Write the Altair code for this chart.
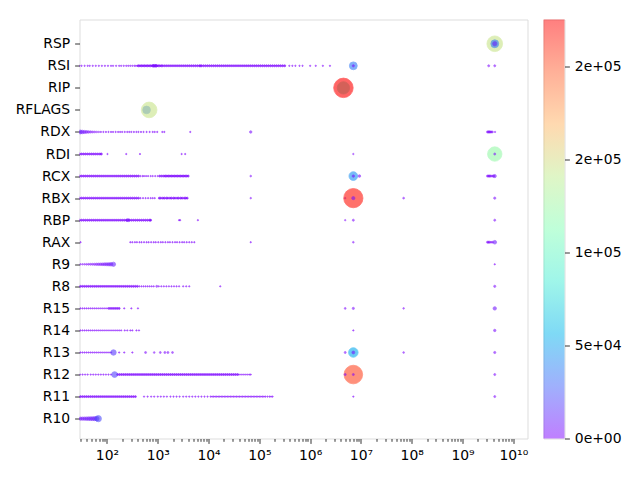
import altair as alt
import pandas as pd

# y categories (bottom to top)
REGISTERS = ["R10", "R11", "R12", "R13", "R14", "R15", "R8", "R9", "RAX",
             "RBP", "RBX", "RCX", "RDI", "RDX", "RFLAGS", "RIP", "RSI", "RSP"]

# counts used for isolated tiny values and for dense strips of values
DOT_COUNT = 100
LINE_COUNT = 1300

# values are given as log10(register value); PTS are (log10 value, count)
R10_SOLID = []
R10_DOTS = []
R10_PTS = [(1.44, 5000), (1.48, 5300), (1.52, 5600), (1.56, 6000), (1.60, 6500), (1.64, 7000),
           (1.68, 7600), (1.72, 8300), (1.76, 9200), (1.80, 11000), (1.83, 22000)]

R11_SOLID = [1.44, 1.48, 1.52, 1.56, 1.60, 1.64, 1.68, 1.72, 1.76, 1.80, 1.84, 1.88, 1.92, 1.96,
             2.00, 2.04, 2.08, 2.12, 2.16, 2.20, 2.24, 2.28, 2.32, 2.36, 2.40, 2.44, 2.48, 2.52, 2.56]
R11_DOTS = [2.73, 2.80, 2.87, 2.93, 3.00, 3.06, 3.12, 3.18, 3.25, 3.31, 3.37, 3.43, 3.50, 3.56,
            3.62, 3.68, 3.74, 3.80, 3.86, 3.92, 3.98, 4.04, 4.07, 4.10, 4.13, 4.16, 4.19, 4.22,
            4.25, 4.28, 4.31, 4.34, 4.37, 4.40, 4.43, 4.46, 4.49, 4.52, 4.55, 4.58, 4.61, 4.64,
            4.67, 4.70, 4.73, 4.76, 4.79, 4.82, 4.85, 4.88, 4.91, 4.94, 4.97, 5.00, 5.03, 5.06,
            5.09, 5.12, 5.16, 5.20, 5.23, 5.26, 6.85]
R11_PTS = [(9.634, 1500)]

R12_SOLID = [2.21, 2.25, 2.29, 2.33, 2.37, 2.41, 2.45, 2.49, 2.53, 2.57, 2.61, 2.65, 2.69, 2.73,
             2.77, 2.81, 2.85, 2.89, 2.93, 2.97, 3.01, 3.05, 3.09, 3.13, 3.17, 3.21, 3.25, 3.29,
             3.33, 3.37, 3.41, 3.45, 3.49, 3.53, 3.57, 3.61, 3.65, 3.69, 3.73, 3.77, 3.81, 3.85,
             3.89, 3.93, 3.97, 4.01, 4.05, 4.09, 4.13, 4.17, 4.21, 4.25, 4.29, 4.33, 4.37, 4.41,
             4.45, 4.49, 4.53, 4.57]
R12_DOTS = [1.47, 1.52, 1.57, 1.62, 1.68, 1.73, 1.78, 1.83, 1.88, 1.93, 1.98, 2.03, 2.08,
            4.60, 4.64, 4.68, 4.72, 4.76, 4.80, 4.83]
R12_PTS = [(2.15, 19000), (6.85, 205000), (6.69, 1500), (6.85, 1500), (9.634, 1500)]

R13_SOLID = []
R13_DOTS = [1.44, 1.48, 1.52, 1.56, 1.60, 1.64, 1.68, 1.72, 1.76, 1.80, 1.84, 1.88, 1.92, 1.96,
            2.00, 2.04, 2.08, 2.24, 2.34, 2.50]
R13_PTS = [(2.128, 17000), (2.76, 1500), (2.93, 800), (3.05, 1200), (3.14, 1500), (3.20, 1500),
           (3.29, 1200), (6.69, 1500), (6.85, 53000), (6.85, 4000), (7.84, 800), (9.634, 2000)]

R14_SOLID = []
R14_DOTS = [1.44, 1.48, 1.52, 1.56, 1.60, 1.64, 1.68, 1.72, 1.76, 1.80, 1.84, 1.88, 1.92, 1.96,
            2.00, 2.04, 2.08, 2.12, 2.16, 2.20, 2.24, 2.28, 2.35, 2.40, 2.46, 2.50, 2.58, 2.63, 6.85]
R14_PTS = [(9.634, 2500)]

R15_SOLID = [2.04, 2.08, 2.12, 2.16, 2.20, 2.24]
R15_DOTS = [1.44, 1.48, 1.52, 1.56, 1.60, 1.64, 1.68, 1.72, 1.76, 1.80, 1.84, 1.88, 1.92, 1.96,
            2.00, 2.34, 2.48, 2.61]
R15_PTS = [(6.69, 1000), (6.85, 2000), (7.84, 600), (9.634, 6000)]

R8_SOLID = [1.44, 1.48, 1.52, 1.56, 1.60, 1.64, 1.68, 1.72, 1.76, 1.80, 1.84, 1.88, 1.92, 1.96,
            2.00, 2.04, 2.08, 2.12, 2.16, 2.20, 2.24, 2.28, 2.32, 2.36, 2.40, 2.44, 2.48, 2.52,
            2.56, 2.60]
R8_DOTS = [2.64, 2.68, 2.72, 2.76, 2.80, 2.84, 2.88, 2.92, 3.02, 3.07, 3.12, 3.17, 3.22, 3.27,
           3.32, 3.37, 3.42, 3.50, 3.56, 3.62, 4.23]
R8_PTS = [(2.98, 1500), (9.634, 2000)]

R9_SOLID = []
R9_DOTS = [9.634]
R9_PTS = [(1.44, 300), (1.48, 400), (1.52, 500), (1.56, 700), (1.60, 900), (1.64, 1100),
          (1.68, 1400), (1.72, 1700), (1.76, 2000), (1.80, 2400), (1.84, 2800), (1.88, 3200),
          (1.92, 3700), (1.96, 4200), (2.00, 4800), (2.04, 5500), (2.08, 6500), (2.128, 10000)]

RAX_SOLID = []
RAX_DOTS = [1.48, 2.46, 2.50, 2.55, 2.59, 2.64, 2.68, 2.73, 2.78, 2.82, 2.87, 2.92, 2.96, 3.01,
            3.06, 3.10, 3.15, 3.20, 3.24, 3.29, 3.34, 3.38, 3.43, 3.48, 3.52, 3.57, 3.62, 3.67,
            3.72, 4.83]
RAX_PTS = [(6.85, 800), (9.49, 1500), (9.51, 1500), (9.53, 1500), (9.56, 1200), (9.59, 1000),
           (9.634, 7000)]

RBP_SOLID = [1.46, 1.50, 1.54, 1.58, 1.62, 1.66, 1.70, 1.74, 1.78, 1.82, 1.86, 1.90, 1.94, 1.98,
             2.02, 2.06, 2.10, 2.14, 2.18, 2.22, 2.26, 2.30, 2.34, 2.38, 2.44, 2.48, 2.52, 2.56,
             2.60, 2.64, 2.68, 2.72, 2.76, 2.80, 2.84, 2.86]
RBP_DOTS = [3.42, 3.44, 3.79]
RBP_PTS = [(2.40, 3000), (2.42, 4000), (6.69, 300), (6.85, 1500), (9.634, 1500)]

RBX_SOLID = [1.46, 1.50, 1.54, 1.58, 1.62, 1.66, 1.70, 1.74, 1.78, 1.82, 1.86, 1.90, 1.94, 1.98,
             2.02, 2.06, 2.10, 2.14, 2.18, 2.22, 2.26, 2.30, 2.34, 2.38, 2.42, 2.46, 2.50, 2.54,
             2.58, 2.62, 3.03, 3.06, 3.10, 3.13, 3.17, 3.20, 3.24, 3.27, 3.31, 3.34, 3.38, 3.41,
             3.45, 3.48, 3.52, 3.55, 3.58]
RBX_DOTS = [2.66, 2.71, 2.76, 2.81, 2.86, 2.90, 2.94]
RBX_PTS = [(4.83, 500), (6.69, 200), (6.85, 220000), (6.85, 5000), (7.84, 1000), (9.634, 2000)]

RCX_SOLID = [1.46, 1.50, 1.54, 1.58, 1.62, 1.66, 1.70, 1.74, 1.78, 1.82, 1.86, 1.90, 1.94, 1.98,
             2.02, 2.06, 2.10, 2.14, 2.18, 2.22, 2.26, 2.30, 2.34, 2.38, 2.42, 2.46, 2.50, 2.54,
             2.58, 2.62, 3.04, 3.08, 3.12, 3.15, 3.18, 3.21, 3.24, 3.27, 3.30, 3.33, 3.36, 3.39,
             3.42, 3.45, 3.48, 3.51, 3.54, 3.57, 3.60]
RCX_DOTS = [2.66, 2.70, 2.73, 2.77, 2.81, 2.86, 2.90, 2.95, 3.00]
RCX_PTS = [(4.83, 800), (6.85, 44000), (6.85, 2500), (6.97, 3000), (9.49, 1500), (9.51, 1500),
           (9.53, 2000), (9.55, 1500), (9.58, 1500), (9.61, 2500), (9.634, 5000)]

RDI_SOLID = [1.46, 1.50, 1.54, 1.58, 1.62, 1.66, 1.70, 1.74, 1.78, 1.82, 1.86, 1.89]
RDI_DOTS = [2.01, 2.38, 2.65, 3.47, 3.54]
RDI_PTS = [(6.85, 300), (9.634, 122000), (9.634, 1500)]

RDX_SOLID = []
RDX_DOTS = [1.88, 1.93, 1.98, 2.03, 2.08, 2.12, 2.17, 2.22, 2.26, 2.30, 2.35, 2.40, 2.44, 2.48,
            2.53, 2.58, 2.62, 2.67, 2.72, 2.78, 2.84, 2.90, 2.94, 2.99, 3.09, 3.13, 3.64]
RDX_PTS = [(1.44, 9600), (1.48, 8000), (1.52, 6500), (1.56, 5000), (1.60, 3800), (1.64, 2800),
           (1.68, 2000), (1.72, 1400), (1.76, 1000), (1.80, 700), (1.84, 400), (4.83, 2500),
           (9.49, 1500), (9.51, 2000), (9.53, 2000), (9.55, 1500), (9.57, 1000), (9.59, 800),
           (9.64, 300)]

RFLAGS_SOLID = []
RFLAGS_DOTS = []
RFLAGS_PTS = [(2.78, 34000), (2.83, 145000)]

RIP_SOLID = []
RIP_DOTS = []
RIP_PTS = [(6.655, 90000), (6.655, 225500)]

RSI_SOLID = [2.62, 2.65, 2.68, 2.71, 2.74, 2.77, 2.80, 2.83, 2.86, 2.89, 2.92, 2.95, 2.98, 3.01,
             3.04, 3.07, 3.10, 3.14, 3.18, 3.22, 3.26, 3.30, 3.34, 3.38, 3.42, 3.46, 3.50, 3.54,
             3.58, 3.62, 3.66, 3.70, 3.74, 3.78, 3.82, 3.86, 3.90, 3.94, 3.98, 4.02, 4.06, 4.10,
             4.14, 4.18, 4.22, 4.26, 4.30, 4.34, 4.38, 4.42, 4.46, 4.50, 4.54, 4.58, 4.62, 4.66,
             4.70, 4.74, 4.78, 4.82, 4.86, 4.90, 4.94, 4.98, 5.02, 5.06, 5.10, 5.14, 5.18, 5.22,
             5.26, 5.30, 5.34, 5.38, 5.42, 5.46, 5.50]
RSI_DOTS = [1.46, 1.50, 1.56, 1.62, 1.66, 1.72, 1.78, 1.84, 1.90, 1.96, 2.02, 2.08, 2.12, 2.18,
            2.24, 2.28, 2.33, 2.38, 2.42, 2.46, 2.50, 2.54, 2.57, 2.60, 5.59, 5.65, 5.71, 5.79,
            5.85, 6.00, 6.11, 6.25, 6.39]
RSI_PTS = [(2.91, 3000), (2.94, 3500), (2.97, 3000), (3.84, 1500), (6.85, 36000), (6.85, 2000),
           (9.515, 1500), (9.634, 1500)]

RSP_SOLID = []
RSP_DOTS = []
RSP_PTS = [(9.634, 145000), (9.634, 36000), (9.634, 10000)]

SERIES = [
    ("R10", R10_SOLID, R10_DOTS, R10_PTS), ("R11", R11_SOLID, R11_DOTS, R11_PTS),
    ("R12", R12_SOLID, R12_DOTS, R12_PTS), ("R13", R13_SOLID, R13_DOTS, R13_PTS),
    ("R14", R14_SOLID, R14_DOTS, R14_PTS), ("R15", R15_SOLID, R15_DOTS, R15_PTS),
    ("R8", R8_SOLID, R8_DOTS, R8_PTS), ("R9", R9_SOLID, R9_DOTS, R9_PTS),
    ("RAX", RAX_SOLID, RAX_DOTS, RAX_PTS), ("RBP", RBP_SOLID, RBP_DOTS, RBP_PTS),
    ("RBX", RBX_SOLID, RBX_DOTS, RBX_PTS), ("RCX", RCX_SOLID, RCX_DOTS, RCX_PTS),
    ("RDI", RDI_SOLID, RDI_DOTS, RDI_PTS), ("RDX", RDX_SOLID, RDX_DOTS, RDX_PTS),
    ("RFLAGS", RFLAGS_SOLID, RFLAGS_DOTS, RFLAGS_PTS), ("RIP", RIP_SOLID, RIP_DOTS, RIP_PTS),
    ("RSI", RSI_SOLID, RSI_DOTS, RSI_PTS), ("RSP", RSP_SOLID, RSP_DOTS, RSP_PTS),
]

COUNT_MAX = 225500
COLORBAR_TICKS = [0, 50000, 100000, 150000, 200000]

rows = []
order = 0
for reg, solid, dots, pts in SERIES:
    for e in dots:
        rows.append({"reg": reg, "value": 10 ** e, "count": DOT_COUNT, "kind": "dot", "o": order}); order += 1
    for e in solid:
        rows.append({"reg": reg, "value": 10 ** e, "count": LINE_COUNT, "kind": "strip", "o": order}); order += 1
    for e, c in pts:
        rows.append({"reg": reg, "value": 10 ** e, "count": c, "kind": "pt", "o": order}); order += 1
df = pd.DataFrame(rows)
df["count_size"] = df["count"]
df["count_edge"] = df["count"]

# matplotlib "rainbow" colormap stops
RAINBOW = ["#8000ff", "#4062fa", "#00b4ec", "#40ecd4", "#80ffb4",
           "#bfec8e", "#ffb462", "#ff6232", "#ff0000"]

major = [10 ** k for k in range(2, 11)]
minor = [m * 10 ** k for k in range(1, 10) for m in range(2, 10) if 28.8 < m * 10 ** k < 1.9e10]
is_major = "abs(log(datum.value)/LN10 - round(log(datum.value)/LN10)) < 0.001"

xdomain = [28.8, 1.9e10]
FONT = "DejaVu Sans"
FS = 13.9
TICK = 4.9
PAD = 4.9
H = 419

sup = "['','','²','³','⁴','⁵','⁶','⁷','⁸','⁹','¹⁰']"

yscale = alt.Scale(type="point", padding=1.1, align=0.55)
xscale = alt.Scale(type="log", domain=xdomain, nice=False)
cscale = alt.Scale(type="linear", domain=[0, COUNT_MAX], range=RAINBOW, interpolate="rgb")

scatter = alt.Chart(df).mark_circle(strokeWidth=0.8, clip=True).encode(
    x=alt.X("value:Q", scale=xscale,
            axis=alt.Axis(values=major + minor, orient="bottom", title=None, grid=False,
                          domain=False,
                          tickSize={"condition": {"test": is_major, "value": TICK}, "value": 2.8},
                          tickColor="black", tickWidth=0.8,
                          labelExpr="(" + is_major + ") ? '10' + " + sup +
                                    "[round(log(datum.value)/LN10)] : ''",
                          labelFont=FONT, labelFontSize=FS, labelColor="black",
                          labelPadding=PAD, labelOverlap=False, labelFlush=False)),
    y=alt.Y("reg:N", sort=REGISTERS[::-1], scale=yscale,
            axis=alt.Axis(title=None, grid=False, domain=False, tickSize=TICK, tickColor="black",
                          tickWidth=0.8, labelFont=FONT, labelFontSize=FS, labelColor="black",
                          labelPadding=PAD, minExtent=65, maxExtent=65)),
    color=alt.Color("count:Q", scale=cscale, legend=None),
    stroke=alt.Stroke("count_edge:Q", scale=cscale, legend=None),
    size=alt.Size("count_size:Q", scale=alt.Scale(domain=[0, COUNT_MAX], range=[1.5, 380]),
                  legend=None),
    opacity=alt.Opacity("kind:N", scale=alt.Scale(domain=["strip", "dot", "pt"],
                                                  range=[0.8, 0.6, 0.5]), legend=None),
    order=alt.Order("o:Q"),
).properties(width=448, height=H)

# colorbar: one rect spanning the colour scale's domain, filled with the rainbow gradient
cbar_df = pd.DataFrame({"lo": [0], "hi": [COUNT_MAX]})
grad = alt.Gradient(
    gradient="linear", x1=0, x2=0, y1=1, y2=0,
    stops=[alt.GradientStop(color=c, offset=i / (len(RAINBOW) - 1)) for i, c in enumerate(RAINBOW)],
)
colorbar = alt.Chart(cbar_df).mark_rect(fill=grad, fillOpacity=0.5).encode(
    x=alt.value(0), x2=alt.value(21),
    y=alt.Y("lo:Q", scale=alt.Scale(domain=[0, COUNT_MAX], nice=False, zero=True),
            axis=alt.Axis(orient="right", title=None, grid=False, domain=False,
                          values=COLORBAR_TICKS, tickSize=TICK, tickColor="black", tickWidth=0.8,
                          labelFont=FONT, labelFontSize=FS, labelColor="black", labelPadding=PAD,
                          labelOverlap=False, labelFlush=False, labelBaseline="middle",
                          labelExpr="replace(format(datum.value, '.0e'), 'e+', 'e+0')")),
    y2="hi:Q",
).properties(width=21, height=H)

chart = alt.hconcat(scatter, colorbar, spacing=14).properties(
    padding={"left": 5.5, "top": 10.5, "right": 5, "bottom": 5},
).configure_view(stroke="black", strokeWidth=1).configure(font=FONT)

chart.save("out.html", embed_options={"renderer": "svg", "actions": False})
